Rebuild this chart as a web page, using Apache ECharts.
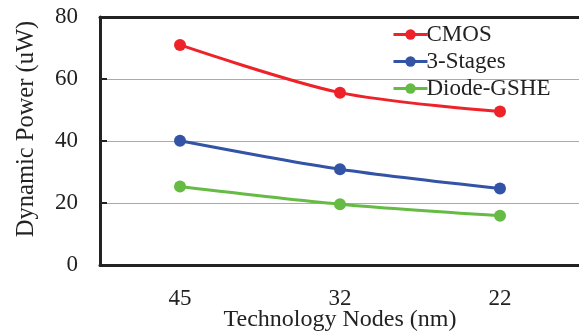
<!DOCTYPE html>
<html>
<head>
<meta charset="utf-8">
<script src="https://cdn.jsdelivr.net/npm/echarts@6/dist/echarts.min.js"></script>
<style>html,body{margin:0;padding:0;background:#fff;}#c{width:579px;height:335px;}</style>
</head>
<body>
<div id="c"></div>
<script>
var categories = ['45', '32', '22'];
var cmos = [71.0, 55.6, 49.5];
var threeStages = [40.1, 30.9, 24.7];
var diodeGSHE = [25.3, 19.6, 15.9];
var seriesNames = ['CMOS', '3-Stages', 'Diode-GSHE'];
var seriesColors = ['#ee2229', '#3353a6', '#66bb44'];

var chart = echarts.init(document.getElementById('c'));
var font = 'Liberation Serif';
function mk(name, data, color) {
  return {
    name: name, type: 'line', data: data, smooth: 0.3,
    symbol: 'circle', symbolSize: 12,
    lineStyle: {color: color, width: 3},
    itemStyle: {color: color},
    z: 5
  };
}
chart.setOption({
  animation: false,
  grid: {left: 100, top: 17, width: 480, height: 248, containLabel: false, outerBoundsMode: 'none'},
  legend: {
    orient: 'vertical', left: 387, top: 18, itemGap: 4,
    itemWidth: 34, itemHeight: 13,
    lineStyle: {width: 3},
    textStyle: {fontFamily: font, fontSize: 23, color: '#222', padding: [0, 0, 0, -6]},
    data: seriesNames
  },
  xAxis: [{
    type: 'category', data: categories, boundaryGap: true,
    axisLine: {lineStyle: {color: '#222', width: 3}},
    axisTick: {inside: true, length: 7, lineStyle: {width: 2, color: '#222'}},
    axisLabel: {fontFamily: font, fontSize: 23, color: '#222', margin: 22},
    name: 'Technology Nodes (nm)', nameLocation: 'middle', nameGap: 43, nameMoveOverlap: false,
    nameTextStyle: {fontFamily: font, fontSize: 24, color: '#222'}
  }, {
    type: 'category', data: categories, position: 'top',
    axisLine: {lineStyle: {color: '#222', width: 3}},
    axisTick: {show: false}, axisLabel: {show: false}
  }],
  yAxis: {
    type: 'value', min: 0, max: 80, interval: 20,
    axisLine: {show: true, lineStyle: {color: '#222', width: 3}},
    axisTick: {show: true, inside: true, length: 7, lineStyle: {width: 2, color: '#222'}},
    axisLabel: {fontFamily: font, fontSize: 23, color: '#222', margin: 22},
    splitLine: {lineStyle: {color: '#aaa', width: 1.2}},
    name: 'Dynamic Power (uW)', nameLocation: 'middle', nameGap: 61, nameMoveOverlap: false,
    nameTextStyle: {fontFamily: font, fontSize: 24.5, color: '#222', padding: [0, 0, 0, 24]}
  },
  series: [
    mk(seriesNames[0], cmos, seriesColors[0]),
    mk(seriesNames[1], threeStages, seriesColors[1]),
    mk(seriesNames[2], diodeGSHE, seriesColors[2])
  ]
});
</script>
</body>
</html>
